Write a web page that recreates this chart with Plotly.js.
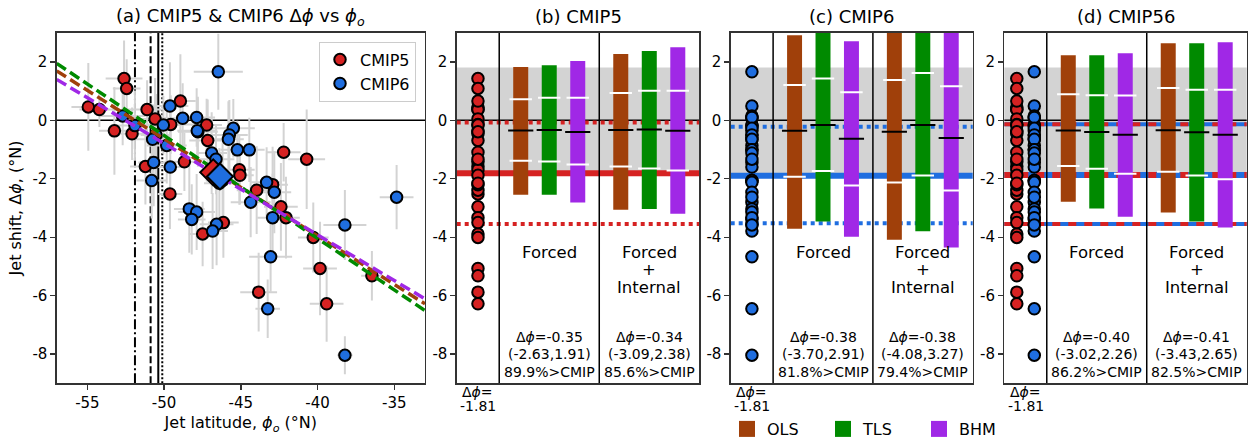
<!DOCTYPE html>
<html>
<head>
<meta charset="utf-8">
<script src="https://cdn.plot.ly/plotly-3.0.1.min.js"></script>
<style>
  html, body { margin: 0; padding: 0; background: white; }
  #chart { width: 1255px; height: 439px; }
</style>
</head>
<body>
<div id="chart"></div>
<script>
// ---- panel (a) data: jet latitude vs jet shift, one point per model ----
var cmip5Lat   = [-54.94,-54.22,-53.24,-52.61,-52.44,-52.09,-51.11,-51.22,-50.59,-49.57,-48.94,-49.62,-48.68,-47.49,-47.23,-47.16,-47.80,-45.10,-45.06,-42.21,-40.71,-43.97,-42.93,-42.39,-42.06,-46.14,-40.28,-39.84,-43.84,-39.41,-36.46,-46.40];
var cmip5Shift = [0.46,0.37,-0.36,1.43,1.09,-0.46,0.37,-1.58,0.05,-0.14,0.66,-2.52,-1.42,-3.89,-0.16,-0.69,-0.39,-1.69,-1.88,-1.09,-1.33,-2.39,-2.20,-2.96,-3.33,-3.50,-4.01,-5.07,-5.88,-6.28,-5.32,-2.15];
var cmip5LatErr   = [1.1,1.3,1.0,1.2,0.9,1.0,1.6,1.0,1.2,1.5,1.0,0.8,1.3,0.9,1.0,1.2,1.3,1.0,0.9,1.1,1.2,1.3,1.0,1.1,0.9,1.0,1.0,1.1,1.2,1.1,0.7,1.0];
var cmip5ShiftErr = [1.5,0.6,1.5,1.3,1.0,0.9,1.0,1.3,1.4,1.0,1.6,1.2,1.0,1.1,0.9,1.4,1.2,1.2,1.0,1.0,1.7,1.5,1.3,1.5,1.4,1.2,1.2,1.6,1.35,1.3,0.85,1.2];

var cmip6Lat   = [-46.47,-49.62,-48.79,-52.70,-51.90,-50.05,-50.53,-50.75,-49.83,-50.68,-49.60,-50.81,-47.88,-47.84,-45.49,-45.75,-45.81,-45.23,-44.45,-46.90,-46.62,-46.19,-43.32,-42.82,-44.36,-48.36,-47.88,-48.20,-46.58,-46.84,-42.93,-38.22,-34.85,-43.06,-43.25,-38.22];
var cmip6Shift = [1.66,0.49,0.07,0.15,-0.18,-0.16,-0.50,-0.65,-0.86,-1.44,-1.60,-2.06,0.10,-0.36,-0.27,-0.50,-0.65,-1.01,-1.01,-1.12,-1.33,-2.06,-2.12,-2.46,-2.80,-3.03,-3.14,-3.39,-3.56,-3.79,-3.33,-3.58,-2.63,-4.67,-6.45,-8.04];
var cmip6LatErr   = [1.6,1.2,1.4,1.5,1.3,1.2,1.0,1.1,1.3,1.0,0.9,1.0,1.2,1.3,1.4,1.2,1.0,1.1,1.0,1.0,1.2,1.1,1.0,1.1,1.3,1.0,1.2,0.9,1.1,1.0,1.0,1.4,1.1,1.4,0.8,0.5];
var cmip6ShiftErr = [1.3,1.5,1.2,1.0,1.2,1.0,1.4,1.2,1.3,1.5,1.2,1.3,1.0,1.1,1.0,1.2,1.3,1.0,1.1,1.4,1.2,1.3,1.2,1.4,1.2,1.5,1.3,1.2,1.4,1.3,1.5,1.2,1.1,1.2,1.0,0.65];

// ensemble means (diamonds)
var cmip5Mean = [-46.80, -1.78];
var cmip6Mean = [-46.36, -1.92];

// regression fits, end points read at the axis limits
var fitLat = [-57, -33];
var olsFit = [1.69, -6.28];
var tlsFit = [1.95, -6.51];
var bhmFit = [1.40, -6.11];

// observed jet latitude estimates (vertical lines)
var obsLat = [-51.90, -50.88, -50.38, -50.12];

// ---- panels (b)-(d): order is Forced OLS,TLS,BHM then Forced+Internal OLS,TLS,BHM ----
var methods = ['OLS', 'TLS', 'BHM'];

var cmip5Lo  = [-2.55,-2.55,-2.81,-3.06,-3.03,-3.20];
var cmip5Hi  = [1.83,1.89,2.03,2.27,2.37,2.50];
var cmip5P16 = [-1.38,-1.41,-1.51,-1.58,-1.65,-1.72];
var cmip5P84 = [0.72,0.77,0.77,0.94,1.01,1.01];
var cmip5Med = [-0.35,-0.33,-0.40,-0.33,-0.31,-0.36];

var cmip6Lo  = [-3.71,-3.46,-3.98,-4.09,-3.80,-4.35];
var cmip6Hi  = [2.91,3.30,2.71,3.40,3.60,3.70];
var cmip6P16 = [-1.93,-1.73,-2.23,-2.13,-1.89,-2.40];
var cmip6P84 = [1.21,1.43,0.96,1.38,1.62,1.17];
var cmip6Med = [-0.36,-0.16,-0.63,-0.39,-0.16,-0.60];

var cmip56Lo  = [-2.79,-3.02,-3.30,-3.15,-3.46,-3.67];
var cmip56Hi  = [2.23,2.23,2.30,2.64,2.64,2.67];
var cmip56P16 = [-1.56,-1.66,-1.83,-1.76,-1.89,-2.02];
var cmip56P84 = [0.89,0.86,0.85,1.11,1.05,1.05];
var cmip56Med = [-0.35,-0.40,-0.49,-0.34,-0.41,-0.49];

// median, 95% range, % above CMIP for Forced / Forced+Internal
var cmip5Stats  = [['-0.35','(-2.63,1.91)','89.9'], ['-0.34','(-3.09,2.38)','85.6']];
var cmip6Stats  = [['-0.38','(-3.70,2.91)','81.8'], ['-0.38','(-4.08,3.27)','79.4']];
var cmip56Stats = [['-0.40','(-3.02,2.26)','86.2'], ['-0.41','(-3.43,2.65)','82.5']];

// CMIP ensemble shift: mean, upper, lower
var cmip5Ref  = [-1.81, -0.07, -3.55];
var cmip6Ref  = [-1.90, -0.22, -3.52];
var cmip56Ref = [-1.87, -0.13, -3.55];
var obsBand = [-1.81, 1.81];
var cmipMeanLabel = '-1.81';

// ---- styles ----
var RED = '#d62222', BLUE = '#1f6ee0';
var methodColors = ['#a0400a', '#008a00', '#a028e6'];
var FONT = 'DejaVu Sans';
var W = 1255, H = 439;
function fx(p) { return p / W; }
function fy(p) { return 1 - p / H; }

var traces = [];
var shapes = [];
var annotations = [];

// ---------------- panel (a) ----------------
function errTrace(lat, shift, latErr, shiftErr) {
    return {
        x: lat, y: shift, type: 'scatter', mode: 'markers',
        xaxis: 'x', yaxis: 'y',
        marker: {size: 1, opacity: 0},
        error_x: {type: 'data', array: latErr, color: '#d3d3d3', thickness: 2, width: 0},
        error_y: {type: 'data', array: shiftErr, color: '#d3d3d3', thickness: 2, width: 0},
        showlegend: false, hoverinfo: 'skip'
    };
}
traces.push(errTrace(cmip5Lat, cmip5Shift, cmip5LatErr, cmip5ShiftErr));
traces.push(errTrace(cmip6Lat, cmip6Shift, cmip6LatErr, cmip6ShiftErr));

traces.push({
    x: cmip5Lat, y: cmip5Shift, type: 'scatter', mode: 'markers', name: 'CMIP5',
    xaxis: 'x', yaxis: 'y', legend: 'legend',
    marker: {color: RED, size: 11.5, line: {color: 'black', width: 2}}
});
traces.push({
    x: cmip6Lat, y: cmip6Shift, type: 'scatter', mode: 'markers', name: 'CMIP6',
    xaxis: 'x', yaxis: 'y', legend: 'legend',
    marker: {color: BLUE, size: 11.5, line: {color: 'black', width: 2}}
});

[olsFit, tlsFit, bhmFit].forEach(function (f, i) {
    traces.push({
        x: fitLat, y: f, type: 'scatter', mode: 'lines', xaxis: 'x', yaxis: 'y',
        line: {color: methodColors[i], width: 3.5, dash: '11px,5px'},
        showlegend: false, hoverinfo: 'skip'
    });
});

traces.push({
    x: [cmip5Mean[0]], y: [cmip5Mean[1]], type: 'scatter', mode: 'markers',
    xaxis: 'x', yaxis: 'y', showlegend: false,
    marker: {symbol: 'diamond', color: RED, size: 20, line: {color: 'black', width: 2}}
});
traces.push({
    x: [cmip6Mean[0]], y: [cmip6Mean[1]], type: 'scatter', mode: 'markers',
    xaxis: 'x', yaxis: 'y', showlegend: false,
    marker: {symbol: 'diamond', color: BLUE, size: 20, line: {color: 'black', width: 2}}
});

var obsDash = ['10px,3px,2px,3px', '7px,3px', 'solid', '2px,2px'];
obsLat.forEach(function (v, i) {
    shapes.push({type: 'line', xref: 'x', yref: 'y domain', x0: v, x1: v, y0: 0, y1: 1,
        line: {color: 'black', width: 2, dash: obsDash[i]}, layer: 'below'});
});
shapes.push({type: 'line', xref: 'x domain', yref: 'y', x0: 0, x1: 1, y0: 0, y1: 0,
    line: {color: 'black', width: 1.5}, layer: 'below'});

// ---------------- panels (b) (c) (d) ----------------
var XR = [0.15, 5.0];          // x range of the right panels
var dotX = (XR[0] + 1) / 2;    // centre of the model column

function buildPanel(n, dotSets, lo, hi, p16, p84, med, stats, ref, refColors) {
    var xa = 'x' + n, ya = 'y' + n;
    // grey band, reference lines, dividers
    shapes.push({type: 'rect', xref: xa + ' domain', yref: ya, x0: 0, x1: 1,
        y0: obsBand[0], y1: obsBand[1], fillcolor: '#d3d3d3', line: {width: 0}, layer: 'below'});
    shapes.push({type: 'line', xref: xa + ' domain', yref: ya, x0: 0, x1: 1, y0: 0, y1: 0,
        line: {color: 'black', width: 1.5}, layer: 'below'});
    ref.forEach(function (v, k) {
        var w = k === 0 ? 6 : 4;
        refColors.forEach(function (c, j) {
            var dash;
            if (refColors.length === 1) dash = k === 0 ? 'solid' : '4px,4px';
            else dash = j === 0 ? 'solid' : '8px,8px';
            shapes.push({type: 'line', xref: xa + ' domain', yref: ya, x0: 0, x1: 1, y0: v, y1: v,
                line: {color: c, width: w, dash: dash}, layer: 'below'});
        });
    });
    [1, 3].forEach(function (d) {
        shapes.push({type: 'line', xref: xa, yref: ya + ' domain', x0: d, x1: d, y0: 0, y1: 1,
            line: {color: 'black', width: 1.5}, layer: 'below'});
    });

    // model dots
    dotSets.forEach(function (s, j) {
        var off = dotSets.length === 1 ? 0 : (j === 0 ? -0.175 : 0.175);
        traces.push({
            x: s.y.map(function () { return dotX + off; }), y: s.y,
            type: 'scatter', mode: 'markers', xaxis: xa, yaxis: ya, showlegend: false,
            marker: {color: s.color, size: 11.5, line: {color: 'black', width: 2}}
        });
    });

    // range bars with percentile ticks
    methods.forEach(function (m, i) {
        var idx = [i, i + 3];
        var xs = idx.map(function (k) { return (k < 3 ? 2 : 4) + (i - 1) * 0.57; });
        traces.push({
            type: 'bar', x: xs, xaxis: xa, yaxis: ya,
            base: idx.map(function (k) { return lo[k]; }),
            y: idx.map(function (k) { return hi[k] - lo[k]; }),
            width: 0.3, marker: {color: methodColors[i], line: {width: 0}},
            showlegend: false, hoverinfo: 'skip'
        });
        [p16, p84].forEach(function (arr) {
            traces.push({
                type: 'scatter', mode: 'markers', xaxis: xa, yaxis: ya, x: xs,
                y: idx.map(function (k) { return arr[k]; }),
                marker: {symbol: 'line-ew', size: 16, line: {color: 'white', width: 2}},
                showlegend: false, hoverinfo: 'skip'
            });
        });
        traces.push({
            type: 'scatter', mode: 'markers', xaxis: xa, yaxis: ya, x: xs,
            y: idx.map(function (k) { return med[k]; }),
            marker: {symbol: 'line-ew', size: 18, line: {color: 'black', width: 2}},
            showlegend: false, hoverinfo: 'skip'
        });
    });

    // section labels
    var tf = {family: FONT, size: 16.5, color: 'black'};
    annotations.push({xref: xa, yref: ya, x: 2, y: -4.52, text: 'Forced', showarrow: false, font: tf});
    ['Forced', '+', 'Internal'].forEach(function (t, k) {
        annotations.push({xref: xa, yref: ya, x: 4, y: -4.52 - 0.6 * k, text: t, showarrow: false, font: tf});
    });
    var sf = {family: FONT, size: 14, color: 'black'};
    stats.forEach(function (st, s) {
        var lines = ['Δ<i>ϕ</i>=' + st[0], st[1], st[2] + '%&gt;CMIP'];
        lines.forEach(function (t, k) {
            annotations.push({xref: xa, yref: ya, x: 2 + 2 * s, y: -7.41 - 0.6 * k, text: t,
                showarrow: false, font: sf});
        });
    });
}

buildPanel(2, [{y: cmip5Shift, color: RED}], cmip5Lo, cmip5Hi, cmip5P16, cmip5P84, cmip5Med,
    cmip5Stats, cmip5Ref, [RED]);
buildPanel(3, [{y: cmip6Shift, color: BLUE}], cmip6Lo, cmip6Hi, cmip6P16, cmip6P84, cmip6Med,
    cmip6Stats, cmip6Ref, [BLUE]);
buildPanel(4, [{y: cmip5Shift, color: RED}, {y: cmip6Shift, color: BLUE}], cmip56Lo, cmip56Hi,
    cmip56P16, cmip56P84, cmip56Med, cmip56Stats, cmip56Ref, [BLUE, RED]);

// method legend (bottom)
methods.forEach(function (m, i) {
    traces.push({
        x: [null], y: [null], type: 'scatter', mode: 'markers', name: m,
        xaxis: 'x3', yaxis: 'y3', legend: 'legend2',
        marker: {symbol: 'square', size: 17, color: methodColors[i]}
    });
});

// ---------------- layout ----------------
var doms = {a: [56.7, 425], b: [456.7, 699.3], c: [730.7, 972.7], d: [1004.3, 1246.7]};
var yDom = [fy(383.3), fy(32.7)];
var yTicks = [-8, -6, -4, -2, 0, 2];
var tickFont = {family: FONT, size: 15, color: 'black'};

function baseAxis(extra) {
    var a = {
        showline: true, mirror: true, linecolor: '#333', linewidth: 1.3,
        showgrid: false, zeroline: false, ticks: 'outside', ticklen: 5, tickwidth: 1.3,
        tickcolor: '#333', tickfont: tickFont, fixedrange: true
    };
    for (var k in extra) a[k] = extra[k];
    return a;
}
function yAxis(anchor) {
    return baseAxis({anchor: anchor, domain: yDom, range: [-9, 3], tickvals: yTicks,
        ticktext: yTicks.map(String)});
}
function rightX(d, anchor) {
    return baseAxis({anchor: anchor, domain: [fx(d[0]), fx(d[1])], range: XR,
        showticklabels: false, ticks: ''});
}

var xTicks = [-55, -50, -45, -40, -35];
var titleFont = {family: FONT, size: 18, color: 'black'};

var layout = {
    width: W, height: H,
    margin: {l: 0, r: 0, t: 0, b: 0, autoexpand: false},
    paper_bgcolor: 'white', plot_bgcolor: 'white',
    font: {family: FONT, color: 'black'},
    barmode: 'overlay',
    xaxis: baseAxis({anchor: 'y', domain: [fx(doms.a[0]), fx(doms.a[1])], range: [-57, -33],
        tickvals: xTicks, ticktext: xTicks.map(String),
        title: {text: 'Jet latitude, <i>ϕ<sub>o</sub></i> (°N)', font: {family: FONT, size: 16}, standoff: 6}}),
    yaxis: baseAxis({anchor: 'x', domain: yDom, range: [-9, 3], tickvals: yTicks,
        ticktext: yTicks.map(String),
        title: {text: 'Jet shift, Δ<i>ϕ</i>, (°N)', font: {family: FONT, size: 16}, standoff: 6}}),
    xaxis2: rightX(doms.b, 'y2'), yaxis2: yAxis('x2'),
    xaxis3: rightX(doms.c, 'y3'), yaxis3: yAxis('x3'),
    xaxis4: rightX(doms.d, 'y4'), yaxis4: yAxis('x4'),
    legend: {
        x: fx(416), xanchor: 'right', y: fy(41.7), yanchor: 'top',
        bgcolor: 'white', bordercolor: '#cccccc', borderwidth: 1,
        font: {family: FONT, size: 16, color: 'black'}, itemwidth: 30, tracegroupgap: 0
    },
    legend2: {
        orientation: 'h', x: fx(727), xanchor: 'left', y: fy(429), yanchor: 'middle',
        bgcolor: 'rgba(0,0,0,0)', font: {family: FONT, size: 16, color: 'black'},
        entrywidth: 51, entrywidthmode: 'pixels', itemwidth: 30
    },
    shapes: shapes,
    annotations: annotations,
    showlegend: true
};

// subplot titles
[['a', '(a) CMIP5 &amp; CMIP6 Δ<i>ϕ</i> vs <i>ϕ<sub>o</sub></i>'], ['b', '(b) CMIP5'],
 ['c', '(c) CMIP6'], ['d', '(d) CMIP56']].forEach(function (t) {
    var d = doms[t[0]];
    layout.annotations.push({xref: 'paper', yref: 'paper', x: fx((d[0] + d[1]) / 2), y: fy(17),
        xanchor: 'center', yanchor: 'middle', text: t[1], showarrow: false, font: titleFont});
});

// CMIP mean label under each model column
['b', 'c', 'd'].forEach(function (p) {
    var d = doms[p];
    var cx = fx(d[0] + (d[1] - d[0]) * ((dotX - XR[0]) / (XR[1] - XR[0])));
    ['Δ<i>ϕ</i>=', cmipMeanLabel].forEach(function (t, k) {
        layout.annotations.push({xref: 'paper', yref: 'paper', x: cx, y: fy(392 + 14 * k),
            xanchor: 'center', yanchor: 'middle', text: t, showarrow: false,
            font: {family: FONT, size: 14, color: 'black'}});
    });
});

Plotly.newPlot('chart', traces, layout, {displayModeBar: false, staticPlot: true});
</script>
</body>
</html>
